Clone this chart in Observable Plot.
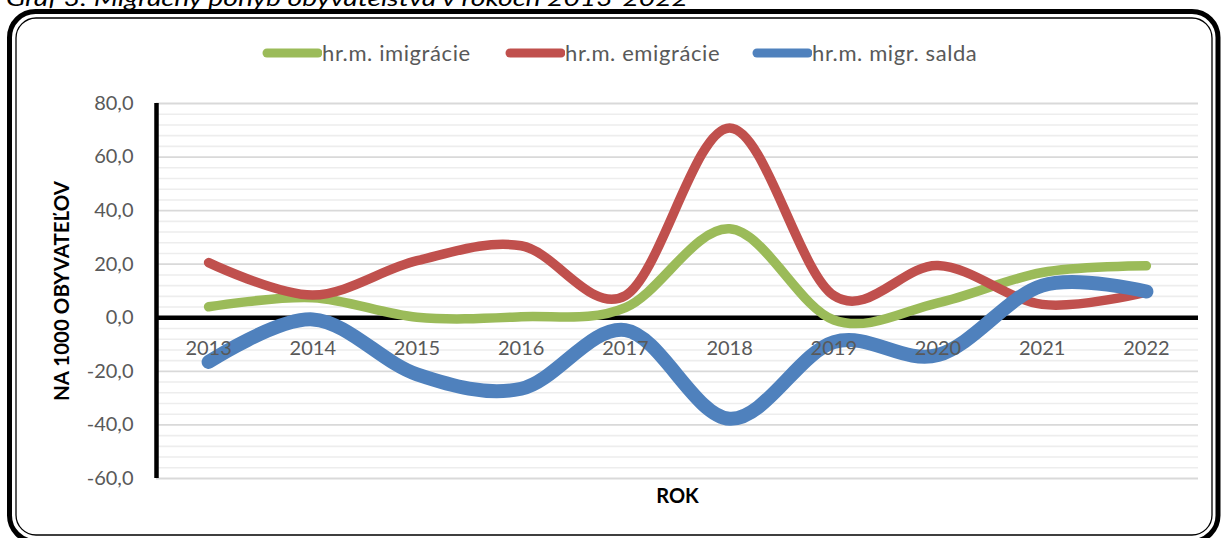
<!DOCTYPE html>
<html><head><meta charset="utf-8">
<script src="https://cdn.jsdelivr.net/npm/d3@7"></script>
<script src="https://cdn.jsdelivr.net/npm/@observablehq/plot@0.6"></script>
<style>
html,body{margin:0;padding:0;background:#fff;overflow:hidden}
#wrap{position:relative;width:1223px;height:538px;font-family:Lato,"Open Sans",sans-serif}
#chart{position:absolute;left:0;top:0}
#deco{position:absolute;left:0;top:0;pointer-events:none}
.leg{position:absolute;top:39px;display:flex;align-items:center;font-size:22px;letter-spacing:0.6px;color:#595959;white-space:nowrap}
.leg svg{display:block}
</style></head><body>
<div id="wrap"><div id="chart"></div><svg id="deco" width="1223" height="538"></svg></div>
<script>
// ---- data ----
const years = [2013, 2014, 2015, 2016, 2017, 2018, 2019, 2020, 2021, 2022];
const imigracie = [4.1, 7.5, 0.2, 0.4, 3.8, 33.2, -0.8, 5.6, 16.9, 19.4];
const emigracie = [20.6, 8.5, 21.3, 26.9, 8.3, 70.9, 8.3, 19.5, 5.0, 9.6];
const saldo = [-16.5, -0.6, -21.1, -26.5, -4.6, -37.7, -9.1, -13.9, 12.0, 9.8];
const seriesNames = ["hr.m. imigrácie", "hr.m. emigrácie", "hr.m. migr. salda"];
const seriesColors = ["#9BBB59", "#C0504D", "#4F81BD"];
const yTicks = [-60, -40, -20, 0, 20, 40, 60, 80];
const titleText = "Graf 3: Migračný pohyb obyvateľstva v rokoch 2013-2022";
const yLabel = "NA 1000 OBYVATEĽOV";
const xLabel = "ROK";

// ---- build ----
const seriesValues = [imigracie, emigracie, saldo];
const seriesWidths = [9.5, 9.5, 14];
const fmt = d => d.toFixed(1).replace(".", ",");
const minorTicks = d3.range(-60, 81, 4).filter(v => v % 20 !== 0);
const tables = seriesValues.map(vals => years.map((yr, i) => ({year: yr, value: vals[i]})));
const font = "Lato, 'Open Sans', sans-serif";

const chart = Plot.plot({
  width: 1223, height: 538,
  marginLeft: 156, marginRight: 25, marginTop: 103, marginBottom: 60,
  x: {domain: [2012.5, 2022.5], axis: null},
  y: {domain: [-60, 80], axis: null},
  style: {fontFamily: font, background: "transparent", overflow: "visible"},
  marks: [
    Plot.ruleY(minorTicks, {stroke: "#ededed", strokeWidth: 1.6}),
    Plot.ruleY(yTicks, {stroke: "#d9d9d9", strokeWidth: 1.8}),
    Plot.ruleY([0], {stroke: "#000", strokeWidth: 4.5}),
    Plot.ruleX([2012.5], {stroke: "#000", strokeWidth: 4.5}),
    Plot.text(yTicks, {x: 2012.5, y: d => d, text: fmt, textAnchor: "end", dx: -23, fill: "#595959", fontSize: 20}),
    ...tables.map((t, i) => Plot.line(t, {x: "year", y: "value", curve: "cardinal", stroke: seriesColors[i], strokeWidth: seriesWidths[i], strokeLinecap: "round", strokeLinejoin: "round"})),
    Plot.text(years, {x: d => d, y: 0, text: d => String(d), dy: 31, fill: "#595959", fontSize: 20}),
    Plot.text([yLabel], {frameAnchor: "left", textAnchor: "middle", rotate: -90, dx: -94, fontWeight: "bold", fontSize: 20.5, fill: "#000"}),
    Plot.text([xLabel], {frameAnchor: "bottom", dy: 24, fontWeight: "bold", fontSize: 20, fill: "#000"})
  ]
});
document.getElementById("chart").appendChild(chart);

// legend
const legX = [262, 505, 752];
seriesNames.forEach((name, i) => {
  const d = document.createElement("div");
  d.className = "leg";
  d.style.left = legX[i] + "px";
  d.innerHTML = `<svg width="60" height="24"><line x1="5" y1="12" x2="56" y2="12" stroke="${seriesColors[i]}" stroke-width="9" stroke-linecap="round"/></svg><span>${name}</span>`;
  document.getElementById("wrap").appendChild(d);
});

// frame + title
const deco = d3.select("#deco");
deco.append("rect").attr("x", 9.5).attr("y", 11.5).attr("width", 1208.5).attr("height", 530).attr("rx", 26)
  .attr("fill", "none").attr("stroke", "#000").attr("stroke-width", 5);
deco.append("rect").attr("x", 16).attr("y", 18).attr("width", 1196).attr("height", 517).attr("rx", 20)
  .attr("fill", "none").attr("stroke", "#000").attr("stroke-width", 1.3);
deco.append("text").attr("x", 6).attr("y", 6).attr("font-family", font).attr("font-style", "italic")
  .attr("font-size", 22).attr("textLength", 682).attr("lengthAdjust", "spacingAndGlyphs").text(titleText);
</script>
</body></html>
